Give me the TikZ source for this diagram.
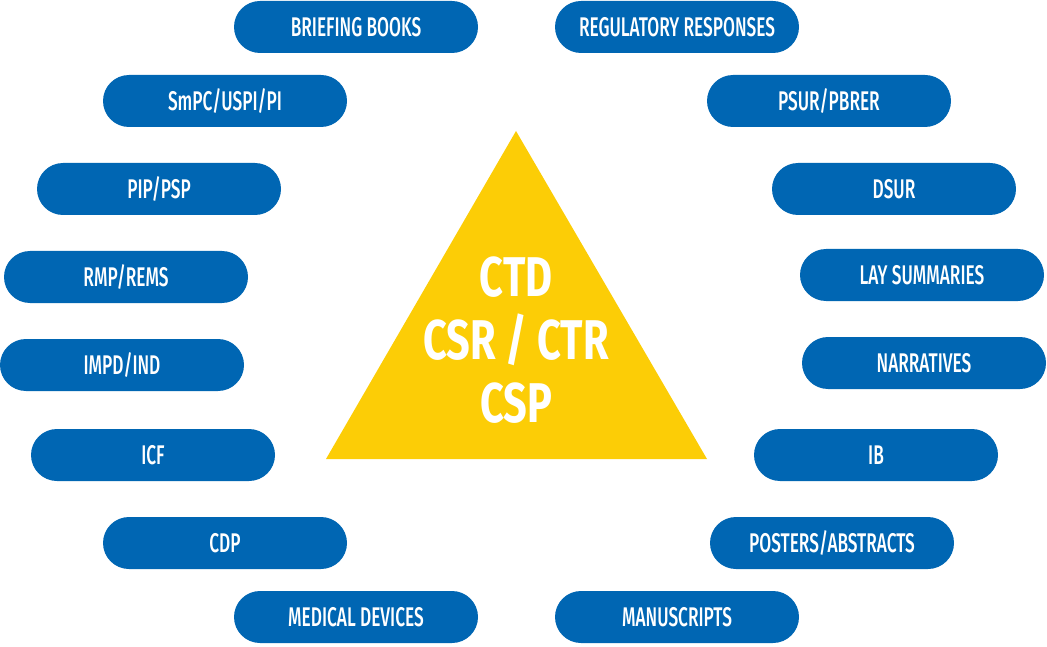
\documentclass[tikz,border=0pt]{standalone}
\usepackage{fontspec}
\setmainfont{Fira Sans}[FakeStretch=0.62]
\newfontfamily\pillfont{Fira Sans Medium}[FakeStretch=0.64]
\newfontfamily\corefont{Fira Sans Bold}[FakeStretch=0.74]
\definecolor{docblue}{RGB}{0,102,179}
\definecolor{docyellow}{RGB}{252,205,6}

\begin{document}
\begin{tikzpicture}[x=1pt,y=-1pt,
        doc/.style={fill=docblue,text=white,rounded corners=26pt,minimum width=244pt,minimum height=52pt,inner sep=0pt,font=\pillfont\fontsize{27}{30}\selectfont}]
        \useasboundingbox (0,0) rectangle (1047,647);
        % centre triangle
        \fill[docyellow] (516,131) -- (707,459) -- (326,459) -- cycle;
        \node[text=white,align=center,font=\corefont\fontsize{56}{63}\selectfont] (core) at (516,340) {CTD\\CSR / CTR\\CSP};
        % left column
        \node[doc] (briefing) at (356,27) {BRIEFING BOOKS};
        \node[doc] (smpc) at (225,101) {SmPC/USPI/PI};
        \node[doc] (pip) at (159,189) {PIP/PSP};
        \node[doc] (rmp) at (126,277) {RMP/REMS};
        \node[doc] (impd) at (122,365) {IMPD/IND};
        \node[doc] (icf) at (153,455) {ICF};
        \node[doc] (cdp) at (225,543) {CDP};
        \node[doc] (devices) at (356,617) {MEDICAL DEVICES};
        % right column
        \node[doc] (regulatory) at (677,27) {REGULATORY RESPONSES};
        \node[doc] (psur) at (829,101) {PSUR/PBRER};
        \node[doc] (dsur) at (894,189) {DSUR};
        \node[doc] (lay) at (922,275) {LAY SUMMARIES};
        \node[doc] (narratives) at (924,363) {NARRATIVES};
        \node[doc] (ib) at (876,455) {IB};
        \node[doc] (posters) at (832,543) {POSTERS/ABSTRACTS};
        \node[doc] (manuscripts) at (677,617) {MANUSCRIPTS};
    \end{tikzpicture}
\end{document}
